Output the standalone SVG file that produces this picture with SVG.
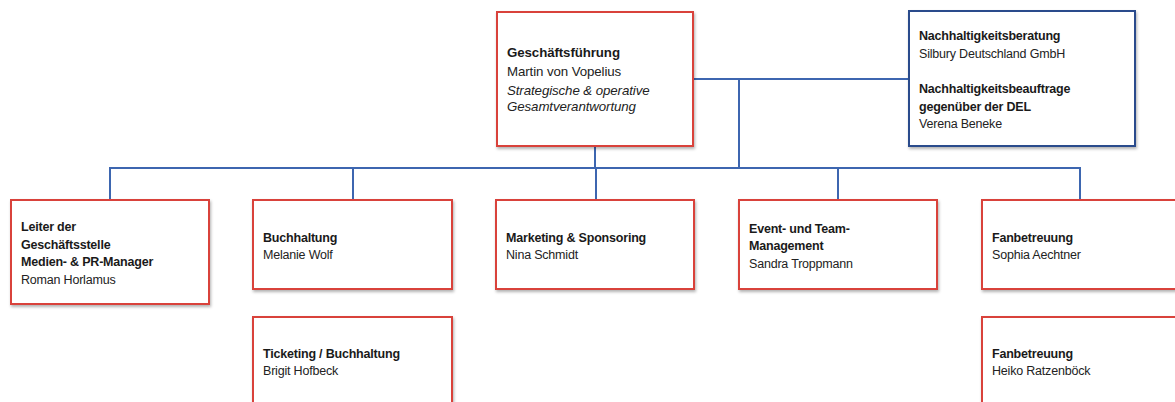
<svg xmlns="http://www.w3.org/2000/svg" width="1175" height="402" viewBox="0 0 1175 402">
<defs>
<filter id="sh" x="-10%" y="-10%" width="130%" height="130%">
<feDropShadow dx="1" dy="2" stdDeviation="1.5" flood-color="#000" flood-opacity="0.3"/>
</filter>
<style>
.box{fill:#fff;stroke:#d9423a;stroke-width:2;filter:url(#sh)}
.bbox{fill:#fff;stroke:#2b4c8c;stroke-width:2;filter:url(#sh)}
.con{fill:none;stroke:#3d66b0;stroke-width:2}
text{font-family:"Liberation Sans",Arial,sans-serif;font-size:12.5px;fill:#222;letter-spacing:-0.2px}
.t{font-weight:bold;fill:#1a1a1a}
.big{font-size:13.3px;letter-spacing:-0.1px}
.i{font-style:italic}
</style>
</defs>
<g id="connectors">
<path class="con" d="M595 146 V168"/>
<path class="con" d="M693 79 H909"/>
<path class="con" d="M739 79 V168"/>
<path class="con" d="M110 200 V168 H1080 V200"/>
<path class="con" d="M353 168 V200"/>
<path class="con" d="M596 168 V200"/>
<path class="con" d="M838 168 V200"/>
</g>
<g id="gf">
<rect class="box" x="497" y="12" width="196" height="134"/>
<text class="t big" x="507" y="57">Geschäftsführung</text>
<text class="big" x="507" y="76">Martin von Vopelius</text>
<text class="big i" x="507" y="95">Strategische &amp; operative</text>
<text class="big i" x="507" y="111">Gesamtverantwortung</text>
</g>
<g id="nh">
<rect class="bbox" x="909" y="11" width="226" height="135"/>
<text class="t" x="919" y="40">Nachhaltigkeitsberatung</text>
<text x="919" y="58">Silbury Deutschland GmbH</text>
<text class="t" x="919" y="93">Nachhaltigkeitsbeauftrage</text>
<text class="t" x="919" y="110.5">gegenüber der DEL</text>
<text x="919" y="128">Verena Beneke</text>
</g>
<g id="leiter">
<rect class="box" x="11" y="200" width="198" height="104"/>
<text class="t" x="21" y="231">Leiter der</text>
<text class="t" x="21" y="248.5">Geschäftsstelle</text>
<text class="t" x="21" y="266">Medien- &amp; PR-Manager</text>
<text x="21" y="283.5">Roman Horlamus</text>
</g>
<g id="buch">
<rect class="box" x="253" y="200" width="199" height="89"/>
<text class="t" x="263" y="241.5">Buchhaltung</text>
<text x="263" y="259">Melanie Wolf</text>
</g>
<g id="mkt">
<rect class="box" x="496" y="200" width="198" height="89"/>
<text class="t" x="506" y="241.5">Marketing &amp; Sponsoring</text>
<text x="506" y="259">Nina Schmidt</text>
</g>
<g id="event">
<rect class="box" x="739" y="200" width="198" height="89"/>
<text class="t" x="749" y="232.5">Event- und Team-</text>
<text class="t" x="749" y="250">Management</text>
<text x="749" y="267.5">Sandra Troppmann</text>
</g>
<g id="fan1">
<rect class="box" x="982" y="200" width="200" height="89"/>
<text class="t" x="992" y="241.5">Fanbetreuung</text>
<text x="992" y="259">Sophia Aechtner</text>
</g>
<g id="ticket">
<rect class="box" x="253" y="317" width="199" height="95"/>
<text class="t" x="263" y="357.5">Ticketing / Buchhaltung</text>
<text x="263" y="375">Brigit Hofbeck</text>
</g>
<g id="fan2">
<rect class="box" x="982" y="317" width="200" height="95"/>
<text class="t" x="992" y="357.5">Fanbetreuung</text>
<text x="992" y="375">Heiko Ratzenböck</text>
</g>
</svg>
